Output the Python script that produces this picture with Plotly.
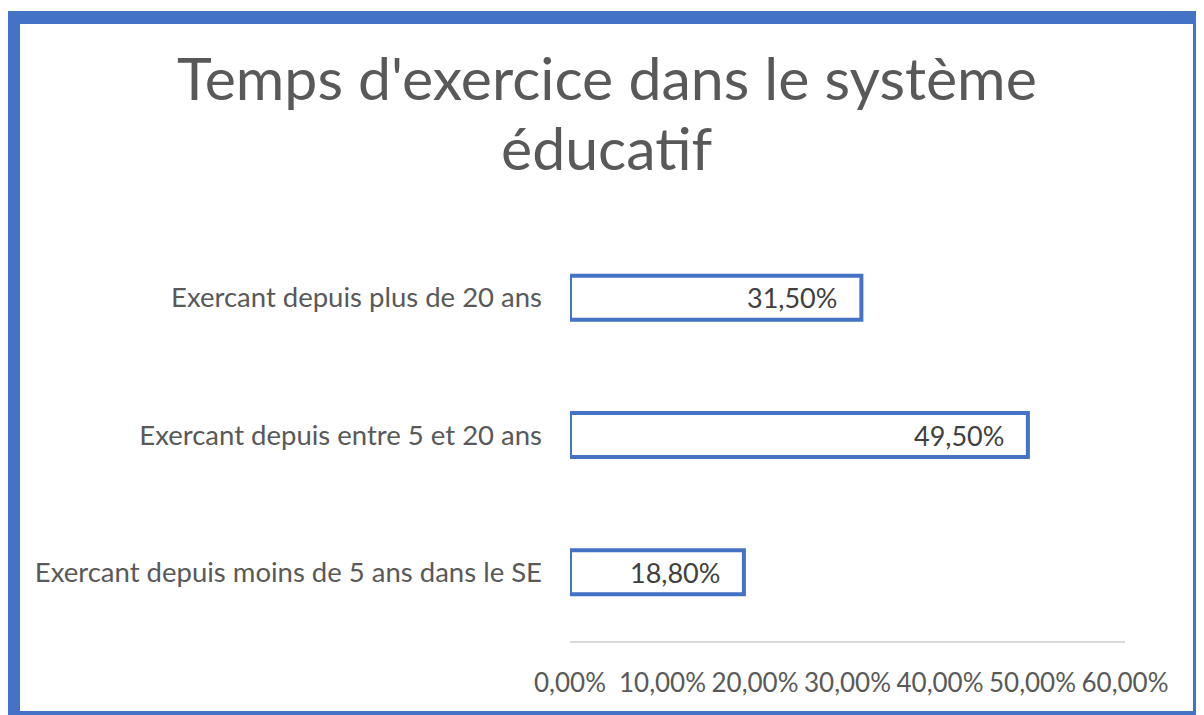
import plotly.graph_objects as go

# categories bottom -> top (plotly puts the first category at the bottom)
categories = [
    "Exercant depuis moins de 5 ans dans le SE",
    "Exercant depuis entre 5 et 20 ans",
    "Exercant depuis plus de 20 ans",
]
values = [0.188, 0.495, 0.315]
tick_vals = [0, 0.1, 0.2, 0.3, 0.4, 0.5, 0.6]
title_lines = ["Temps d'exercice dans le système", "éducatif"]

# the page body has an 8px margin, so the figure starts at (8, 8) on screen
OFF = 8
W, H = 1204 - OFF, 715 - OFF
ML, MR, MT, MB = 562, 79, 221, 74
pw, ph = W - ML - MR, H - MT - MB


def px_x(x):
    return (x - OFF - ML) / pw


def px_y(y):
    return (H - MB - (y - OFF)) / ph


blue = "#4472C4"
grey = "#595959"
font = "Lato"

fig = go.Figure(go.Bar(
    x=values, y=categories, orientation="h",
    marker=dict(color="white", line=dict(color=blue, width=4)),
    width=0.32, hoverinfo="skip",
))

for c, v in zip(categories, values):
    fig.add_annotation(
        x=v, y=c, xref="x", yref="y", xanchor="right", xshift=-22,
        text=f"{v * 100:.2f}%".replace(".", ","), showarrow=False,
        font=dict(family=font, size=27, color="#404040"),
    )

# title, one annotation per line
for i, line in enumerate(title_lines):
    fig.add_annotation(
        x=px_x(607), y=px_y(40 + 70 * i), xref="paper", yref="paper",
        xanchor="center", yanchor="top", showarrow=False,
        text=line, font=dict(family=font, size=59, color=grey),
    )

# frame around the chart (blue border of the picture)
frame = [
    (8, 11, 20, 716),
    (8, 11, 1198, 24),
    (1193, 11, 1198, 716),
    (8, 711, 1198, 716),
]
for x0, y0, x1, y1 in frame:
    fig.add_shape(type="rect", xref="paper", yref="paper",
                  x0=px_x(x0), x1=px_x(x1), y0=px_y(y1), y1=px_y(y0),
                  fillcolor=blue, line=dict(width=0), layer="above")

fig.update_layout(
    width=W, height=H,
    margin=dict(l=ML, r=MR, t=MT, b=MB),
    paper_bgcolor="white", plot_bgcolor="white",
    separators=", ",
    showlegend=False,
    xaxis=dict(
        range=[0, 0.6], tickvals=tick_vals, tickformat=".2%",
        showgrid=False, zeroline=False,
        showline=True, linecolor="#D9D9D9", linewidth=2,
        ticklabelstandoff=18,
        tickfont=dict(family=font, size=26, color=grey),
        fixedrange=True,
    ),
    yaxis=dict(
        categoryorder="array", categoryarray=categories,
        showgrid=False, zeroline=False, showline=False,
        ticklabelstandoff=27,
        tickfont=dict(family=font, size=27.5, color=grey),
        fixedrange=True,
    ),
)

fig.write_html("out.html")
